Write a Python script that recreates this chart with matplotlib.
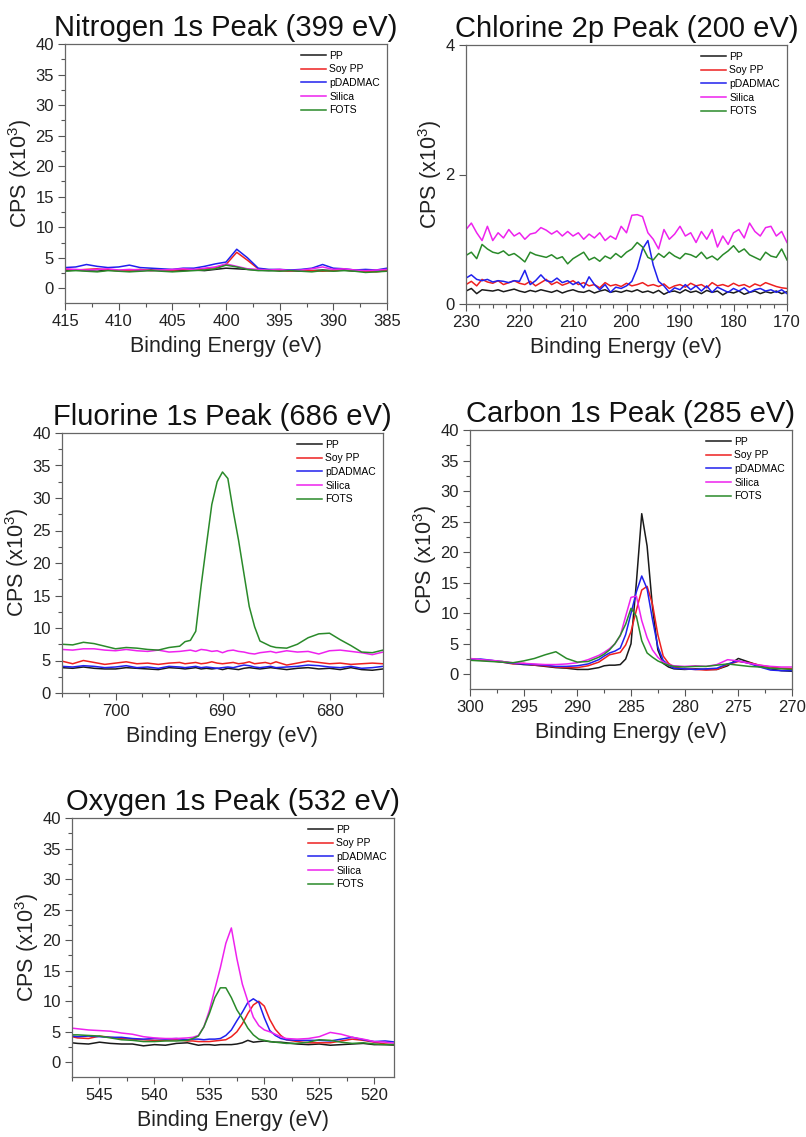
import numpy as np
import matplotlib.pyplot as plt
from matplotlib.ticker import MultipleLocator

plt.rcParams['font.family'] = ['Liberation Sans', 'DejaVu Sans']

# muestras y colores (estilo Origin)
samples = ["PP", "Soy PP", "pDADMAC", "Silica", "FOTS"]
colors = ["#1a1a1a", "#ee2020", "#2020ee", "#ee22ee", "#2a8a2a"]

# ---------------- Nitrogen 1s ----------------
n_energy = np.arange(415, 384, -1)
n_pp = [2.9, 3.0, 2.9, 2.8, 3.0, 2.9, 2.8, 2.9, 3.0, 2.9, 2.8, 2.9, 3.0, 2.9, 3.1, 3.3,
        3.2, 3.1, 3.0, 2.9, 3.0, 2.9, 2.8, 2.9, 3.0, 2.9, 3.0, 2.8, 2.9, 2.8, 2.9]
n_soy = [3.1, 3.0, 3.1, 3.2, 3.0, 2.9, 3.0, 3.1, 2.9, 3.0, 3.0, 3.1, 3.0, 3.2, 3.4, 3.9,
         5.9, 4.6, 3.2, 3.0, 2.9, 2.8, 3.0, 2.9, 2.8, 2.9, 3.0, 2.9, 2.8, 2.7, 2.9]
n_pdadmac = [3.4, 3.5, 3.9, 3.6, 3.4, 3.5, 3.8, 3.4, 3.3, 3.2, 3.1, 3.3, 3.3, 3.6, 4.0, 4.3,
             6.4, 5.0, 3.3, 3.1, 3.1, 3.0, 3.1, 3.3, 3.9, 3.3, 3.2, 3.0, 3.1, 3.0, 3.3]
n_silica = [3.2, 3.1, 3.0, 3.1, 3.2, 3.0, 3.1, 3.0, 2.9, 3.0, 3.1, 3.2, 3.1, 3.3, 3.5, 4.0,
            3.6, 3.2, 3.1, 3.0, 3.1, 2.9, 3.0, 3.2, 3.5, 3.1, 3.2, 3.0, 2.9, 3.0, 3.1]
n_fots = [2.8, 2.9, 2.8, 2.7, 2.9, 2.8, 2.7, 2.8, 2.9, 2.8, 2.7, 2.8, 2.9, 3.0, 3.2, 3.8,
          3.5, 3.1, 2.9, 2.9, 2.8, 2.9, 2.8, 2.7, 2.9, 2.8, 2.9, 2.8, 2.6, 2.7, 2.8]

# ---------------- Chlorine 2p ----------------
cl_energy = np.arange(230, 169, -1)
cl_pp = [0.20, 0.24, 0.16, 0.22, 0.21, 0.20, 0.22, 0.19, 0.21, 0.23,
         0.20, 0.18, 0.21, 0.19, 0.22, 0.20, 0.18, 0.21, 0.17, 0.20,
         0.22, 0.19, 0.18, 0.21, 0.17, 0.20, 0.22, 0.18, 0.20, 0.18,
         0.21, 0.19, 0.22, 0.18, 0.20, 0.17, 0.21, 0.15, 0.19, 0.20,
         0.17, 0.22, 0.18, 0.20, 0.16, 0.21, 0.18, 0.20, 0.14, 0.19,
         0.17, 0.20, 0.15, 0.18, 0.20, 0.16, 0.19, 0.17, 0.20, 0.16, 0.19]
cl_soy = [0.30, 0.35, 0.28, 0.38, 0.34, 0.32, 0.36, 0.30, 0.33, 0.36,
          0.32, 0.30, 0.35, 0.28, 0.33, 0.38, 0.30, 0.34, 0.29, 0.32,
          0.36, 0.30, 0.33, 0.28, 0.30, 0.25, 0.33, 0.28, 0.30, 0.27,
          0.32, 0.28, 0.30, 0.33, 0.28, 0.30, 0.27, 0.31, 0.24, 0.28,
          0.30, 0.26, 0.32, 0.28, 0.30, 0.25, 0.33, 0.28, 0.30, 0.27,
          0.32, 0.28, 0.30, 0.26, 0.31, 0.28, 0.33, 0.30, 0.27, 0.25, 0.24]
cl_pdadmac = [0.40, 0.45, 0.38, 0.36, 0.38, 0.34, 0.36, 0.35, 0.33, 0.36,
              0.35, 0.52, 0.30, 0.36, 0.45, 0.36, 0.34, 0.40, 0.33, 0.36,
              0.30, 0.34, 0.25, 0.42, 0.30, 0.22, 0.30, 0.18, 0.26, 0.24,
              0.28, 0.35, 0.55, 0.85, 0.98, 0.60, 0.35, 0.28, 0.18, 0.25,
              0.22, 0.30, 0.22, 0.28, 0.20, 0.28, 0.18, 0.26, 0.22, 0.18,
              0.24, 0.20, 0.25, 0.18, 0.22, 0.24, 0.20, 0.22, 0.18, 0.22, 0.16]
cl_silica = [1.15, 1.25, 1.10, 0.98, 1.20, 0.98, 1.10, 1.02, 1.15, 1.05,
             1.10, 1.00, 1.08, 1.10, 1.18, 1.14, 1.08, 1.13, 1.05, 1.12,
             1.05, 1.10, 1.00, 1.08, 1.02, 1.10, 0.98, 1.05, 1.00, 1.20,
             1.10, 1.37, 1.38, 1.35, 1.10, 1.00, 0.85, 1.15, 1.00, 1.08,
             1.20, 1.05, 1.10, 0.95, 1.12, 1.00, 1.15, 0.88, 1.05, 0.92,
             1.10, 1.15, 1.02, 1.25, 1.12, 1.05, 1.18, 1.20, 1.05, 1.12, 0.95]
cl_fots = [0.75, 0.80, 0.70, 0.92, 0.85, 0.80, 0.78, 0.82, 0.75, 0.78,
           0.72, 0.65, 0.80, 0.76, 0.74, 0.72, 0.76, 0.70, 0.73, 0.62,
           0.70, 0.75, 0.80, 0.68, 0.72, 0.66, 0.74, 0.70, 0.78, 0.72,
           0.80, 0.85, 0.95, 0.88, 0.72, 0.68, 0.78, 0.72, 0.80, 0.74,
           0.70, 0.78, 0.76, 0.72, 0.80, 0.70, 0.74, 0.68, 0.76, 0.82,
           0.90, 0.80, 0.85, 0.76, 0.72, 0.68, 0.80, 0.74, 0.72, 0.85, 0.68]

# ---------------- Fluorine 1s ----------------
f_energy = [705, 704, 703, 702, 701, 700, 699, 698, 697, 696, 695, 694,
            693.5, 693, 692.5, 692, 691.5, 691, 690.5, 690, 689.5, 689, 688.5, 688,
            687.5, 687, 686.5, 686, 685.5, 685,
            684, 683, 682, 681, 680, 679, 678, 677, 676, 675]
f_pp = [3.9, 3.8, 4.0, 3.8, 3.7, 3.7, 3.9, 3.8, 3.7, 3.6, 3.9, 3.8,
        3.7, 3.8, 3.9, 3.7, 3.8, 3.7, 3.8, 3.6, 3.8, 3.7, 3.6, 3.8,
        3.9, 3.8, 3.7, 3.8, 3.9, 3.8,
        3.6, 3.8, 3.9, 3.7, 3.8, 3.6, 3.9, 3.6, 3.5, 3.7]
f_soy = [4.9, 4.5, 5.0, 4.7, 4.4, 4.6, 4.8, 4.5, 4.6, 4.4, 4.6, 4.7,
         4.5, 4.6, 4.7, 4.5, 4.6, 4.8, 4.6, 4.5, 4.6, 4.7, 4.5, 4.6,
         4.8, 4.5, 4.6, 4.7, 4.5, 4.8,
         4.3, 4.6, 4.9, 4.7, 4.5, 4.6, 4.4, 4.5, 4.6, 4.5]
f_pdadmac = [4.1, 4.0, 4.2, 4.1, 3.9, 4.0, 4.2, 3.9, 4.0, 3.8, 4.1, 4.0,
             3.9, 4.0, 4.1, 3.9, 4.0, 3.9, 3.8, 3.9, 4.0, 3.9, 4.1, 4.3,
             4.2, 4.0, 3.9, 4.0, 4.1, 3.9,
             4.0, 4.1, 4.3, 4.2, 4.0, 3.9, 4.1, 3.8, 3.9, 4.1]
f_silica = [6.7, 6.6, 6.8, 6.8, 6.6, 6.5, 6.7, 6.5, 6.4, 6.6, 6.3, 6.4,
            6.5, 6.6, 6.4, 6.7, 6.6, 6.4, 6.5, 6.2, 6.5, 6.6, 6.4, 6.3,
            6.1, 6.0, 6.2, 6.3, 6.4, 6.2,
            6.5, 6.3, 6.4, 6.0, 6.5, 6.6, 6.4, 6.2, 5.9, 6.3]
f_fots = [7.5, 7.4, 7.8, 7.6, 7.2, 6.8, 7.0, 6.9, 6.7, 6.6, 7.0, 7.2,
          7.9, 8.1, 9.5, 16.5, 22.8, 29.0, 32.5, 34.0, 33.0, 28.0, 23.5, 18.4,
          13.3, 10.2, 8.0, 7.6, 7.2, 7.0,
          6.9, 7.5, 8.5, 9.1, 9.2, 8.2, 7.3, 6.3, 6.2, 6.6]

# ---------------- Carbon 1s ----------------
c_energy = [300, 299, 298, 297, 296, 295, 294, 293, 292, 291, 290, 289, 288,
            287.5, 287, 286.5, 286, 285.5, 285, 284.5, 284, 283.5, 283, 282.5, 282, 281.5,
            281, 280, 279, 278, 277, 276, 275, 274, 273, 272, 271, 270]
c_pp = [2.5, 2.4, 2.2, 2.1, 1.8, 1.6, 1.5, 1.3, 1.1, 1.0, 0.8, 0.8, 1.1,
        1.4, 1.5, 1.5, 1.6, 2.5, 5.0, 15.0, 26.3, 21.0, 11.0, 4.0, 1.8, 1.2,
        0.9, 0.8, 0.9, 0.8, 0.8, 1.4, 2.6, 2.0, 1.4, 0.9, 0.6, 0.5]
c_soy = [2.5, 2.3, 2.2, 2.0, 1.7, 1.8, 1.5, 1.4, 1.2, 1.1, 1.1, 1.4, 2.0,
         2.6, 3.2, 3.4, 3.6, 4.8, 7.0, 10.5, 13.8, 14.4, 11.5, 6.5, 3.0, 1.8,
         1.2, 0.9, 0.8, 0.7, 0.8, 1.6, 2.1, 1.9, 1.5, 1.2, 1.0, 0.9]
c_pdadmac = [2.4, 2.5, 2.3, 2.0, 1.8, 1.7, 1.6, 1.5, 1.3, 1.3, 1.4, 1.7, 2.4,
             3.0, 3.5, 3.8, 4.3, 6.5, 10.0, 13.5, 16.1, 14.0, 9.0, 4.5, 2.3, 1.5,
             1.0, 0.9, 0.8, 0.9, 1.0, 1.7, 2.2, 1.8, 1.2, 0.7, 0.6, 0.6]
c_silica = [2.6, 2.4, 2.3, 2.1, 1.9, 1.8, 1.7, 1.6, 1.6, 1.7, 1.9, 2.4, 3.1,
            3.6, 4.2, 5.0, 6.3, 9.5, 12.6, 12.8, 8.8, 6.0, 4.0, 2.8, 2.0, 1.6,
            1.4, 1.3, 1.4, 1.3, 1.6, 2.4, 2.2, 1.8, 1.5, 1.3, 1.2, 1.2]
c_fots = [2.3, 2.2, 2.1, 2.0, 1.9, 2.2, 2.6, 3.2, 3.7, 2.6, 2.0, 2.1, 2.8,
          3.3, 4.0, 5.0, 6.4, 8.2, 10.8, 9.5, 5.5, 3.5, 2.8, 2.2, 1.8, 1.5,
          1.3, 1.2, 1.3, 1.3, 1.5, 1.7, 1.5, 1.3, 1.2, 1.0, 0.9, 0.8]

# ---------------- Oxygen 1s ----------------
o_energy = [547.5, 547, 546, 545, 544, 543, 542, 541, 540, 539, 538, 537,
            536.5, 536, 535.5, 535, 534.5, 534, 533.5, 533, 532.5, 532, 531.5, 531,
            530.5, 530, 529.5, 529, 528.5, 528,
            527, 526, 525, 524, 523, 522, 521, 520, 519, 518]
o_pp = [3.2, 3.1, 3.0, 3.3, 3.1, 3.0, 3.0, 2.7, 2.9, 2.8, 3.1, 3.2,
        3.0, 2.8, 2.9, 2.9, 2.8, 2.9, 2.9, 2.9, 3.0, 3.2, 3.6, 3.3,
        3.4, 3.5, 3.4, 3.3, 3.3, 3.2,
        3.0, 2.9, 3.0, 2.8, 2.9, 3.0, 3.1, 2.9, 2.9, 2.8]
o_soy = [4.2, 4.0, 3.9, 4.3, 4.1, 3.9, 3.8, 3.7, 3.6, 3.6, 3.7, 3.5,
         3.5, 3.4, 3.4, 3.4, 3.5, 3.6, 3.7, 4.2, 5.0, 6.3, 8.0, 9.4,
         10.0, 9.2, 7.0, 5.4, 4.4, 3.7,
         3.4, 3.2, 3.2, 3.2, 3.5, 3.8, 3.6, 3.3, 3.0, 2.9]
o_pdadmac = [4.3, 4.2, 4.3, 4.2, 4.1, 4.1, 3.9, 3.8, 3.9, 3.8, 3.9, 3.7,
             3.8, 3.8, 3.7, 3.8, 3.8, 3.9, 4.4, 5.3, 6.8, 8.2, 9.8, 10.4,
             9.8, 7.3, 5.2, 4.4, 3.9, 3.7,
             3.6, 3.6, 3.6, 3.5, 3.8, 4.1, 3.7, 3.4, 3.5, 3.3]
o_silica = [5.6, 5.5, 5.3, 5.2, 5.1, 4.8, 4.6, 4.2, 4.0, 3.9, 3.9, 4.0,
            4.1, 4.4, 5.8, 8.5, 12.0, 15.5, 19.5, 22.0, 17.0, 12.8, 10.0, 7.4,
            6.0, 5.3, 5.0, 4.6, 4.2, 3.9,
            3.8, 3.9, 4.2, 4.9, 4.6, 4.1, 3.8, 3.4, 3.3, 3.1]
o_fots = [4.5, 4.5, 4.4, 4.3, 4.0, 3.7, 3.6, 3.4, 3.4, 3.5, 3.5, 3.6,
          3.9, 4.3, 5.8, 8.0, 10.6, 12.2, 12.2, 10.6, 8.6, 7.2, 5.6, 4.5,
          3.8, 3.6, 3.4, 3.3, 3.2, 3.1,
          3.1, 3.3, 3.7, 3.6, 3.3, 3.1, 3.2, 3.0, 2.9, 2.9]


def draw_panel(fig, rect, energy, series, title, xlim, ylim, xmaj, xmin, ymaj, ymin):
    ax = fig.add_axes(rect)
    for y, c, lab in zip(series, colors, samples):
        ax.plot(energy, y, color=c, lw=1.1, label=lab)
    ax.set_xlim(*xlim)
    ax.set_ylim(*ylim)
    ax.xaxis.set_major_locator(MultipleLocator(xmaj))
    ax.xaxis.set_minor_locator(MultipleLocator(xmin))
    ax.yaxis.set_major_locator(MultipleLocator(ymaj))
    if ymin:
        ax.yaxis.set_minor_locator(MultipleLocator(ymin))
    ax.tick_params(which='both', direction='out', top=False, right=False,
                   colors='#555555', labelcolor='#222222', width=0.8)
    ax.tick_params(which='major', length=5, pad=3, labelsize=12)
    ax.tick_params(which='minor', length=3)
    for s in ax.spines.values():
        s.set_color('#666666')
        s.set_linewidth(0.9)
    ax.set_title(title, fontsize=21, pad=6, color='#111111')
    ax.set_xlabel('Binding Energy (eV)', fontsize=15.5, labelpad=5, color='#222222')
    ax.set_ylabel('CPS (x10$^3$)', fontsize=15.5, labelpad=1, color='#222222')
    ax.legend(loc='upper right', frameon=False, fontsize=7.5, handlelength=2.4,
              handletextpad=0.3, labelspacing=0.35, borderaxespad=0.35, borderpad=0.3)
    return ax


plt.rcParams['mathtext.fontset'] = 'custom'
plt.rcParams['mathtext.rm'] = 'Liberation Sans'

fig = plt.figure(figsize=(8.06, 11.37), dpi=100)
W, H = 806.0, 1137.0


def rect(left, right, top, bottom):
    return [left / W, 1 - bottom / H, (right - left) / W, (bottom - top) / H]


draw_panel(fig, rect(65, 387, 44, 303), n_energy,
           [n_pp, n_soy, n_pdadmac, n_silica, n_fots],
           'Nitrogen 1s Peak (399 eV)', (415, 385), (-2.4, 40), 5, 2.5, 5, 2.5)
draw_panel(fig, rect(466, 787, 45, 304), cl_energy,
           [cl_pp, cl_soy, cl_pdadmac, cl_silica, cl_fots],
           'Chlorine 2p Peak (200 eV)', (230, 170), (0, 4), 10, 2.5, 2, None)
draw_panel(fig, rect(62, 383, 433, 693), f_energy,
           [f_pp, f_soy, f_pdadmac, f_silica, f_fots],
           'Fluorine 1s Peak (686 eV)', (705, 675), (0, 40), 10, 2.5, 5, 2.5)
draw_panel(fig, rect(470, 792, 430, 689), c_energy,
           [c_pp, c_soy, c_pdadmac, c_silica, c_fots],
           'Carbon 1s Peak (285 eV)', (300, 270), (-2.4, 40), 5, 2.5, 5, 2.5)
draw_panel(fig, rect(72, 394, 818, 1077), o_energy,
           [o_pp, o_soy, o_pdadmac, o_silica, o_fots],
           'Oxygen 1s Peak (532 eV)', (547.5, 518.2), (-2.4, 40), 5, 2.5, 5, 2.5)

fig.savefig('out.png', dpi=100)
